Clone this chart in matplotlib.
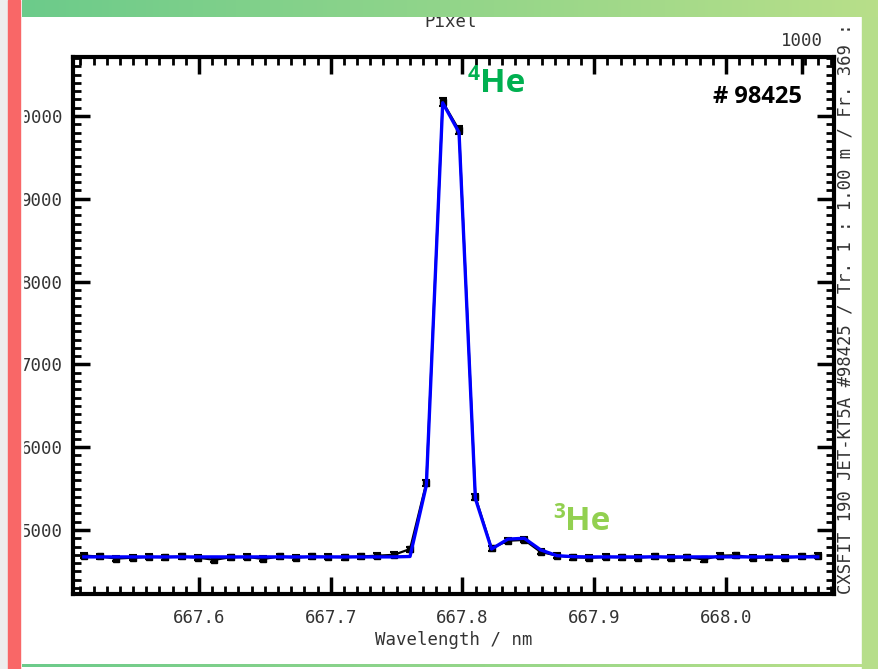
import numpy as np
import matplotlib
matplotlib.use('Agg')
import matplotlib.pyplot as plt
from matplotlib.patches import Rectangle
from matplotlib.ticker import MultipleLocator

# wavelength samples (nm)
wavelength = [667.5126, 667.5250, 667.5374, 667.5498, 667.5622, 667.5745, 667.5869, 667.5993,
              667.6117, 667.6241, 667.6364, 667.6488, 667.6612, 667.6736, 667.6860, 667.6983,
              667.7107, 667.7231, 667.7355, 667.7479, 667.7602, 667.7726, 667.7850, 667.7974,
              667.8098, 667.8221, 667.8345, 667.8469, 667.8593, 667.8717, 667.8840, 667.8964,
              667.9088, 667.9212, 667.9336, 667.9459, 667.9583, 667.9707, 667.9831, 667.9955,
              668.0078, 668.0202, 668.0326, 668.0450, 668.0574, 668.0697]

# measured counts
counts = [4690, 4680, 4655, 4665, 4675, 4670, 4680, 4665, 4640, 4670, 4675, 4650,
          4680, 4665, 4680, 4675, 4670, 4680, 4690, 4700, 4770, 5570, 10170, 9830,
          5400, 4780, 4870, 4880, 4735, 4690, 4670, 4665, 4675, 4670, 4665, 4680,
          4665, 4670, 4645, 4690, 4695, 4665, 4670, 4665, 4680, 4690]

# error bars
errors = [30, 30, 30, 30, 30, 30, 30, 30, 30, 30, 30, 30,
          30, 30, 30, 30, 30, 30, 30, 30, 30, 35, 50, 45,
          35, 30, 30, 30, 30, 30, 30, 30, 30, 30, 30, 30,
          30, 30, 30, 30, 30, 30, 30, 30, 30, 30]

# fitted spectrum
fit = [4675, 4675, 4675, 4675, 4675, 4675, 4675, 4675, 4675, 4675, 4675, 4675,
       4675, 4675, 4675, 4675, 4675, 4675, 4675, 4675, 4680, 5540, 10160, 9800,
       5380, 4770, 4890, 4900, 4760, 4690, 4678, 4675, 4675, 4675, 4675, 4675,
       4675, 4675, 4675, 4675, 4675, 4675, 4675, 4675, 4675, 4675]

x_ticks = [667.6, 667.7, 667.8, 667.9, 668.0]
y_ticks = [5000, 6000, 7000, 8000, 9000, 10000]
top_ticks = [667.6, 667.7, 667.8, 667.9, 668.0, 668.058]
top_labels = ['', '', '', '', '', '1000']

W, H = 879, 669
idl_font = 'DejaVu Sans Mono'
idl_col = '#333333'


def px(x, y):
    return x / W, 1 - y / H


fig = plt.figure(figsize=(W / 100, H / 100), dpi=100)
fig.patch.set_facecolor('white')

ax = fig.add_axes([73 / W, 1 - 594 / H, (834 - 73) / W, (594 - 57) / H])
ax.errorbar(wavelength, counts, yerr=errors, fmt='none', ecolor='black',
            elinewidth=1.5, capsize=3, capthick=1.5, zorder=3)
ax.plot(wavelength, counts, color='black', lw=1.6, marker='s', ms=4, zorder=3)
ax.plot(wavelength, fit, color='#0000ff', lw=2.4, zorder=4)

ax.set_xlim(667.5044, 668.082)
ax.set_ylim(4227, 10712)
ax.set_xticks(x_ticks)
ax.set_xticklabels([f'{v:.1f}' for v in x_ticks], family=idl_font)
ax.set_yticks(y_ticks)
ax.set_yticklabels([str(v) for v in y_ticks], family=idl_font)
ax.xaxis.set_minor_locator(MultipleLocator(0.01))
ax.yaxis.set_minor_locator(MultipleLocator(100))
ax.tick_params(which='major', direction='in', length=12, width=2.5,
               bottom=True, top=False, left=True, right=True,
               labelsize=12.5, labelcolor=idl_col)
ax.tick_params(which='minor', direction='in', length=6, width=2,
               bottom=True, top=False, left=True, right=True)
ax.tick_params(axis='x', pad=11)
ax.tick_params(axis='y', pad=7)
for s in ax.spines.values():
    s.set_linewidth(3)
ax.set_xlabel('Wavelength / nm', fontsize=12.5, color=idl_col, family=idl_font, labelpad=3)

# top pixel axis
ax2 = ax.twiny()
ax2.set_xlim(ax.get_xlim())
ax2.set_xticks(top_ticks)
ax2.set_xticklabels(top_labels, family=idl_font)
ax2.xaxis.set_minor_locator(MultipleLocator(0.01))
ax2.tick_params(which='major', direction='in', length=12, width=2.5,
                labelsize=12.5, labelcolor=idl_col, pad=5)
ax2.tick_params(which='minor', direction='in', length=6, width=2)
for s in ax2.spines.values():
    s.set_visible(False)

fig.text(*px(451, 27), 'Pixel', fontsize=12.5, color=idl_col, family=idl_font,
         ha='center', va='baseline')

# isotope labels
green4 = '#00b050'
green3 = '#92d050'
fig.text(*px(480, 74), '4', fontsize=15, fontweight='bold', color=green4,
         family='Open Sans', ha='right', va='center')
fig.text(*px(480, 92), 'He', fontsize=24, fontweight='bold', color=green4,
         family='Open Sans', ha='left', va='baseline')
fig.text(*px(565, 512), '3', fontsize=15, fontweight='bold', color=green3,
         family='Open Sans', ha='right', va='center')
fig.text(*px(565, 530), 'He', fontsize=24, fontweight='bold', color=green3,
         family='Open Sans', ha='left', va='baseline')
fig.text(*px(802, 97), '# 98425', fontsize=17, fontweight='bold', color='black',
         family='Open Sans', ha='right', va='center')

# side info text
fig.text(*px(846, 594), 'CXSFIT 190 JET-KT5A #98425 / Tr. 1 : 1.00 m / Fr. 369 :',
         fontsize=12.4, color=idl_col, family=idl_font, rotation=90, ha='center', va='bottom')

# window chrome of the screenshot
fig.add_artist(Rectangle((0, 0), 8 / W, 1, transform=fig.transFigure,
                         color='#eeeeee', zorder=10))
fig.add_artist(Rectangle((20 / W, 0), 3 / W, 1, transform=fig.transFigure,
                         color='white', zorder=10))
fig.add_artist(Rectangle((8 / W, 0), 12 / W, 1, transform=fig.transFigure,
                         color='#f96767', zorder=10))
fig.add_artist(Rectangle((862 / W, 0), 17 / W, 1 - 8 / H, transform=fig.transFigure,
                         color='#b6de8a', zorder=10))
grad = np.linspace(0, 1, 256).reshape(1, -1)
cmap = matplotlib.colors.LinearSegmentedColormap.from_list('g', ['#6ccb8b', '#b8df89'])
top_bar = fig.add_axes([22 / W, 1 - 17 / H, (W - 22) / W, 17 / H], zorder=11)
top_bar.imshow(grad, aspect='auto', cmap=cmap)
top_bar.axis('off')
bot_bar = fig.add_axes([22 / W, 1 - 667 / H, (862 - 22) / W, 3 / H], zorder=11)
bot_bar.imshow(grad, aspect='auto', cmap=cmap)
bot_bar.axis('off')

fig.savefig('out.png', dpi=100)
